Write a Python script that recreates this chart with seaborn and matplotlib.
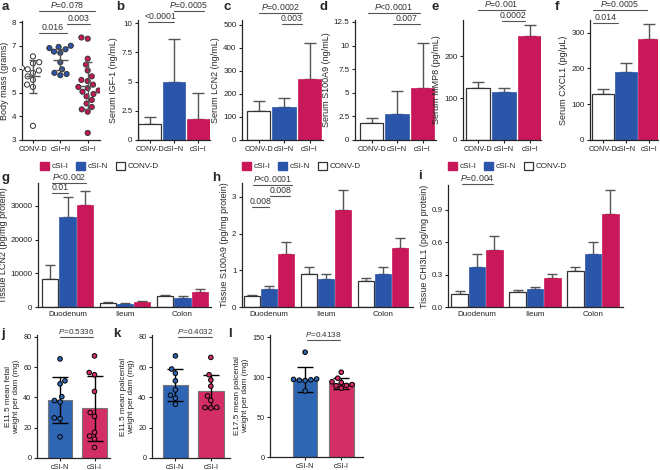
import numpy as np
import pandas as pd
import matplotlib
matplotlib.use("Agg")
import matplotlib.pyplot as plt
import seaborn as sns
from matplotlib.transforms import blended_transform_factory
from matplotlib.patches import Patch
import warnings
warnings.filterwarnings("ignore")

sns.set_theme(style="ticks")
plt.rcParams['font.family'] = ['Liberation Sans', 'DejaVu Sans']
plt.rcParams['mathtext.fontset'] = 'custom'
plt.rcParams['mathtext.it'] = 'Liberation Sans:italic'
plt.rcParams['mathtext.rm'] = 'Liberation Sans'
plt.rcParams['axes.linewidth'] = 0.9
plt.rcParams['xtick.major.width'] = 0.8
plt.rcParams['ytick.major.width'] = 0.8
plt.rcParams['xtick.major.size'] = 2.5
plt.rcParams['ytick.major.size'] = 2.5
plt.rcParams['xtick.major.pad'] = 1.5
plt.rcParams['ytick.major.pad'] = 1.5

TICK = 5.8
XTICK = 5.3
YLAB = 6.5
BR = 6.3

# ---------------- data ----------------
groups3 = ["CONV-D", "cSI−N", "cSI−I"]
RED = "#C8185A"
BLUE = "#2B55A8"
pal3 = {"CONV-D": "white", "cSI−N": BLUE, "cSI−I": RED}

# a: body mass
mass_convd = [6.55, 6.3, 6.25, 6.05, 6.0, 5.95, 5.85, 5.7, 5.55, 5.35, 5.25, 3.6]
mass_csin = [7.0, 6.95, 6.9, 6.85, 6.75, 6.7, 6.3, 6.0, 5.85, 5.8, 5.75]
mass_csii = [7.35, 7.3, 6.45, 6.2, 5.95, 5.7, 5.55, 5.5, 5.35, 5.25, 5.2, 5.1,
             5.05, 4.95, 4.85, 4.7, 4.55, 4.4, 4.3, 4.2, 3.3]
mass_mean = [5.7, 6.4, 5.3]
mass_sd = [0.7, 0.45, 1.0]

# b-f: serum
igf_mean = [1.33, 5.0, 1.8]
igf_err = [0.6, 3.6, 2.25]
lcn2_mean = [125, 144, 264]
lcn2_err = [42, 40, 155]
s100_mean = [1.75, 2.7, 5.55]
s100_err = [0.6, 2.5, 4.7]
mmp8_mean = [125, 115, 248]
mmp8_err = [14, 10, 27]
cxcl1_mean = [128, 190, 281]
cxcl1_err = [15, 24, 42]

# g-i: tissue
tissues = ["Duodenum", "Ileum", "Colon"]
hue_order = ["CONV-D", "cSI-N", "cSI-I"]
pal_t = {"CONV-D": "white", "cSI-N": BLUE, "cSI-I": RED}

tlcn2_convd = [8450, 1290, 3180]
tlcn2_csin = [26600, 990, 2780]
tlcn2_csii = [30190, 1390, 4370]
tlcn2_convd_err = [4150, 300, 390]
tlcn2_csin_err = [5970, 200, 600]
tlcn2_csii_err = [4370, 300, 890]

ts100_convd = [0.29, 0.9, 0.7]
ts100_csin = [0.5, 0.75, 0.9]
ts100_csii = [1.45, 2.65, 1.6]
ts100_convd_err = [0.04, 0.2, 0.1]
ts100_csin_err = [0.08, 0.15, 0.2]
ts100_csii_err = [0.32, 0.53, 0.27]

tchi_convd = [0.124, 0.14, 0.33]
tchi_csin = [0.366, 0.17, 0.49]
tchi_csii = [0.525, 0.27, 0.86]
tchi_convd_err = [0.026, 0.018, 0.04]
tchi_csin_err = [0.124, 0.016, 0.11]
tchi_csii_err = [0.135, 0.04, 0.22]

# j-l
groups2 = ["cSI-N", "cSI-I"]
BLUE2 = "#2F66B3"
PINK2 = "#D42E66"
pal2 = {"cSI-N": BLUE2, "cSI-I": PINK2}
fetal_csin = [65.5, 51, 49, 40.5, 38, 37, 26.5, 26, 14]
fetal_csii = [67.5, 56.5, 55, 44, 30, 27.5, 17, 14.5, 12.5, 7]
fetal_mean = [38.3, 32.8]
fetal_sd = [15.3, 21.5]
plac11_csin = [67.5, 58.8, 56, 51, 45, 41.5, 39.5, 35.5]
plac11_csii = [66.5, 55, 51.5, 47.5, 41, 38, 33.5, 33.3, 33]
plac11_mean = [48.3, 44.0]
plac11_sd = [10.5, 11.0]
plac17_csin = [131, 97.5, 97, 96.5, 96, 95.5, 82.5]
plac17_csii = [106, 98.5, 94, 93, 90.5, 89.5, 89, 86]
plac17_mean = [97.0, 92.0]
plac17_sd = [15.5, 7.0]

# ---------------- layout helpers ----------------
W, H = 660, 470
fig = plt.figure(figsize=(6.6, 4.7), dpi=100)


def add_ax(x0, y0, x1, y1):
    ax = fig.add_axes([x0 / W, 1 - y1 / H, (x1 - x0) / W, (y1 - y0) / H])
    return ax


def style(ax, fs=TICK, xfs=XTICK):
    sns.despine(ax=ax)
    ax.tick_params(axis="y", labelsize=fs, colors="#222")
    ax.tick_params(axis="x", labelsize=xfs, colors="#222")
    ax.set_xlabel("")


def bracket(ax, x1, x2, ypx, text, fs=BR):
    tr = blended_transform_factory(ax.transData, fig.transFigure)
    y = 1 - ypx / H
    ax.plot([x1, x2], [y, y], transform=tr, color="#555", lw=0.8, clip_on=False)
    ax.text((x1 + x2) / 2, y + 1.0 / H, text, transform=tr, ha="center",
            va="bottom", fontsize=fs, color="#333")


def P(s):
    return r"$\mathit{P}$" + s


def bars3(ax, means, errs, width=0.92):
    df = pd.DataFrame({"group": groups3, "value": means})
    sns.barplot(data=df, x="group", y="value", hue="group", order=groups3,
                hue_order=groups3, palette=pal3, width=width, ax=ax,
                legend=False, errorbar=None, saturation=1)
    patches = sorted(ax.patches, key=lambda p: p.get_x())
    for i, p in enumerate(patches):
        if i == 0:
            p.set_edgecolor("#333")
            p.set_linewidth(0.9)
        else:
            p.set_edgecolor(p.get_facecolor())
            p.set_linewidth(0.5)
    ax.errorbar(np.arange(3), means, yerr=[np.zeros(3), errs], fmt="none",
                ecolor="#555", elinewidth=1, capsize=4, capthick=1, zorder=0.5)
    style(ax)


def grouped(ax, means, errs):
    rows = []
    for g in hue_order:
        for t, m in zip(tissues, means[g]):
            rows.append({"tissue": t, "group": g, "value": m})
    df = pd.DataFrame(rows)
    sns.barplot(data=df, x="tissue", y="value", hue="group", order=tissues,
                hue_order=hue_order, palette=pal_t, width=0.9, gap=0.05,
                ax=ax, legend=False, errorbar=None, saturation=1)
    patches = sorted(ax.patches, key=lambda p: p.get_x())
    xs, ys, es = [], [], []
    for k, p in enumerate(patches):
        ti, gi = k // 3, k % 3
        g = hue_order[gi]
        if g == "CONV-D":
            p.set_edgecolor("#333")
            p.set_linewidth(0.9)
        else:
            p.set_edgecolor(p.get_facecolor())
            p.set_linewidth(0.5)
        xs.append(p.get_x() + p.get_width() / 2)
        ys.append(means[g][ti])
        es.append(errs[g][ti])
    ax.errorbar(xs, ys, yerr=[np.zeros(len(xs)), es], fmt="none",
                ecolor="#555", elinewidth=1, capsize=3.5, capthick=1, zorder=0.5)
    style(ax, xfs=5.8)
    ax.tick_params(axis="x", length=0, pad=3)


def legend_t(ax, xpx, ypx):
    handles = [Patch(facecolor=RED, edgecolor=RED),
               Patch(facecolor=BLUE, edgecolor=BLUE),
               Patch(facecolor="white", edgecolor="#333", linewidth=0.9)]
    ax.legend(handles, ["cSI-I", "cSI-N", "CONV-D"], ncol=3, loc="center left",
              bbox_to_anchor=(xpx / W, 1 - ypx / H), bbox_transform=fig.transFigure,
              frameon=False, handlelength=1.1, handleheight=1.1, handletextpad=0.35,
              columnspacing=0.9, borderaxespad=0, borderpad=0, fontsize=5.9)


def dots2(ax, pts_n, pts_i, mean, sd, width):
    df = pd.DataFrame({"group": groups2, "value": mean})
    sns.barplot(data=df, x="group", y="value", hue="group", order=groups2,
                hue_order=groups2, palette=pal2, width=width, ax=ax,
                legend=False, errorbar=None, saturation=1,
                edgecolor="#777", linewidth=0.8)
    ax.errorbar([0, 1], mean, yerr=sd, fmt="none", ecolor="black",
                elinewidth=1, capsize=6, capthick=1, zorder=3)
    pts = pd.DataFrame({"group": ["cSI-N"] * len(pts_n) + ["cSI-I"] * len(pts_i),
                        "value": list(pts_n) + list(pts_i)})
    sns.swarmplot(data=pts, x="group", y="value", hue="group", order=groups2,
                  hue_order=groups2, palette=pal2, size=3.3, edgecolor="black",
                  linewidth=0.7, ax=ax, legend=False, zorder=4)
    style(ax, fs=5.3, xfs=5.3)


# ---------------- panel a ----------------
ax = add_ax(22, 21, 100, 140)
pts = pd.DataFrame({"group": ["CONV-D"] * len(mass_convd) + ["cSI−N"] * len(mass_csin)
                    + ["cSI−I"] * len(mass_csii),
                    "value": mass_convd + mass_csin + mass_csii})
sns.swarmplot(data=pts, x="group", y="value", hue="group", order=groups3,
              hue_order=groups3, palette=pal3, size=3.7, edgecolor="#333",
              linewidth=0.7, ax=ax, legend=False)
ax.hlines(mass_mean, np.arange(3) - 0.27, np.arange(3) + 0.27, color="#555",
          lw=1, zorder=5)
ax.errorbar(np.arange(3), mass_mean, yerr=mass_sd, fmt="none", ecolor="#555",
            elinewidth=1, capsize=3, capthick=1, zorder=5)
ax.set_ylim(3, 8.05)
ax.set_yticks([3, 4, 5, 6, 7, 8])
ax.set_xlim(-0.4, 2.45)
style(ax)
ax.set_ylabel("Body mass (grams)", fontsize=YLAB, labelpad=2)
bracket(ax, 0.22, 2.25, 11, P("=0.078"))
bracket(ax, 0.22, 1.24, 33, "0.016")
bracket(ax, 1.24, 2.1, 24, "0.003")

# ---------------- panel b ----------------
ax = add_ax(138, 19.5, 210, 140)
bars3(ax, igf_mean, igf_err)
ax.set_ylim(0, 10.3)
ax.set_yticks([0, 2.5, 5, 7.5, 10])
ax.set_yticklabels(["0", "2.5", "5", "7.5", "10"])
ax.set_xlim(-0.47, 2.47)
ax.set_ylabel("Serum IGF-1 (ng/mL)", fontsize=YLAB, labelpad=2)
bracket(ax, -0.06, 1.0, 21.7, "<0.0001")
bracket(ax, 1.0, 2.22, 11, P("=0.0005"))

# ---------------- panel c ----------------
ax = add_ax(242, 20, 323, 140)
bars3(ax, lcn2_mean, lcn2_err)
ax.set_ylim(0, 520)
ax.set_yticks([0, 100, 200, 300, 400, 500])
ax.set_xlim(-0.65, 2.53)
ax.set_ylabel("Serum LCN2 (ng/mL)", fontsize=YLAB, labelpad=2)
bracket(ax, 0.0, 1.7, 13.3, P("=0.0002"))
bracket(ax, 0.92, 1.7, 24, "0.003")

# ---------------- panel d ----------------
ax = add_ax(355, 20, 436, 140)
bars3(ax, s100_mean, s100_err)
ax.set_ylim(0, 12.7)
ax.set_yticks([0, 2.5, 5, 7.5, 10, 12.5])
ax.set_yticklabels(["0", "2.5", "5", "7.5", "10", "12.5"])
ax.set_xlim(-0.65, 2.53)
ax.set_ylabel("Serum S100A9 (ng/mL)", fontsize=YLAB, labelpad=2)
bracket(ax, -0.14, 1.9, 13.3, P("<0.0001"))
bracket(ax, 0.84, 1.9, 24, "0.007")

# ---------------- panel e ----------------
ax = add_ax(463, 20, 541, 140)
bars3(ax, mmp8_mean, mmp8_err)
ax.set_ylim(0, 286)
ax.set_yticks([0, 100, 200])
ax.set_xlim(-0.58, 2.42)
ax.set_ylabel("Serum MMP8 (pg/mL)", fontsize=YLAB, labelpad=2)
bracket(ax, 0.0, 1.8, 10, P("=0.001"))
bracket(ax, 0.92, 1.8, 21, "0.0002")

# ---------------- panel f ----------------
ax = add_ax(590, 20, 658, 140)
bars3(ax, cxcl1_mean, cxcl1_err)
ax.set_ylim(0, 335)
ax.set_yticks([0, 100, 200, 300])
ax.set_xlim(-0.565, 2.39)
ax.set_ylabel("Serum CXCL1 (pg/μL)", fontsize=YLAB, labelpad=2)
bracket(ax, -0.43, 1.9, 10, P("=0.0005"))
bracket(ax, -0.43, 0.65, 23, "0.014")

# ---------------- panel g ----------------
ax = add_ax(38, 183, 210.7, 307)
grouped(ax, {"CONV-D": tlcn2_convd, "cSI-N": tlcn2_csin, "cSI-I": tlcn2_csii},
        {"CONV-D": tlcn2_convd_err, "cSI-N": tlcn2_csin_err, "cSI-I": tlcn2_csii_err})
ax.set_ylim(0, 36800)
ax.set_yticks([0, 10000, 20000, 30000])
ax.set_xlim(-0.513, 2.49)
ax.set_ylabel("Tissue LCN2 (pg/mg protein)", fontsize=YLAB, labelpad=1.5)
legend_t(ax, 40, 166)
bracket(ax, -0.27, 0.01, 193, "0.01")
bracket(ax, -0.27, 0.32, 183, P("<0.002"))

# ---------------- panel h ----------------
ax = add_ax(242, 183, 413, 307)
grouped(ax, {"CONV-D": ts100_convd, "cSI-N": ts100_csin, "cSI-I": ts100_csii},
        {"CONV-D": ts100_convd_err, "cSI-N": ts100_csin_err, "cSI-I": ts100_csii_err})
ax.set_ylim(0, 3.38)
ax.set_yticks([0, 1, 2, 3])
ax.set_xlim(-0.474, 2.53)
ax.set_ylabel("Tissue S100A9 (pg/mg protein)", fontsize=YLAB, labelpad=2)
legend_t(ax, 242, 166)
bracket(ax, -0.28, 0.4, 185, P("<0.0001"))
bracket(ax, 0.02, 0.37, 196, "0.008")
bracket(ax, -0.3, 0.0, 206.7, "0.008")

# ---------------- panel i ----------------
ax = add_ax(448, 185, 623, 307)
grouped(ax, {"CONV-D": tchi_convd, "cSI-N": tchi_csin, "cSI-I": tchi_csii},
        {"CONV-D": tchi_convd_err, "cSI-N": tchi_csin_err, "cSI-I": tchi_csii_err})
ax.set_ylim(0, 1.13)
ax.set_yticks([0, 0.3, 0.6, 0.9])
ax.set_yticklabels(["0.0", "0.3", "0.6", "0.9"])
ax.set_xlim(-0.5, 2.52)
ax.set_ylabel("Tissue CHI3L1 (pg/mg protein)", fontsize=YLAB, labelpad=2)
legend_t(ax, 448, 166)
bracket(ax, -0.26, 0.28, 184, P("=0.004"))

# ---------------- panel j ----------------
ax = add_ax(37, 335, 110, 458)
dots2(ax, fetal_csin, fetal_csii, fetal_mean, fetal_sd, 0.7)
ax.set_ylim(0, 81.3)
ax.set_yticks([0, 20, 40, 60, 80])
ax.set_xlim(-0.67, 1.45)
ax.set_ylabel("E11.5 mean fetal\nweight per dam (mg)", fontsize=5.9, labelpad=2)
bracket(ax, 0.0, 0.96, 337, P("=0.5336"), fs=5.9)

# ---------------- panel k ----------------
ax = add_ax(152, 335, 230, 458)
dots2(ax, plac11_csin, plac11_csii, plac11_mean, plac11_sd, 0.72)
ax.set_ylim(0, 81.3)
ax.set_yticks([0, 20, 40, 60, 80])
ax.set_xlim(-0.66, 1.54)
ax.set_ylabel("E11.5 mean palcental\nweight per dam (mg)", fontsize=5.9, labelpad=2)
bracket(ax, 0.07, 1.03, 337, P("=0.4032"), fs=5.9)

# ---------------- panel l ----------------
ax = add_ax(270, 335, 363, 457)
dots2(ax, plac17_csin, plac17_csii, plac17_mean, plac17_sd, 0.68)
ax.set_ylim(0, 152.5)
ax.set_yticks([0, 50, 100, 150])
ax.set_xlim(-0.97, 1.6)
ax.set_ylabel("E17.5 mean palcental\nweight per dam (mg)", fontsize=5.9, labelpad=2)
bracket(ax, 0.04, 0.96, 340, P("=0.4138"), fs=5.9)

# ---------------- panel letters ----------------
letters = [("a", 2, 1), ("b", 116, 1), ("c", 224, 1), ("d", 320, 1), ("e", 432, 1),
           ("f", 555, 1), ("g", 2, 172), ("h", 212, 172), ("i", 418, 170),
           ("j", 1, 328), ("k", 113, 328), ("l", 228, 328)]
for s, x, y in letters:
    fig.text(x / W, 1 - y / H, s, fontsize=9.5, fontweight="bold", va="top", ha="left")

fig.savefig("out.png", dpi=100)
